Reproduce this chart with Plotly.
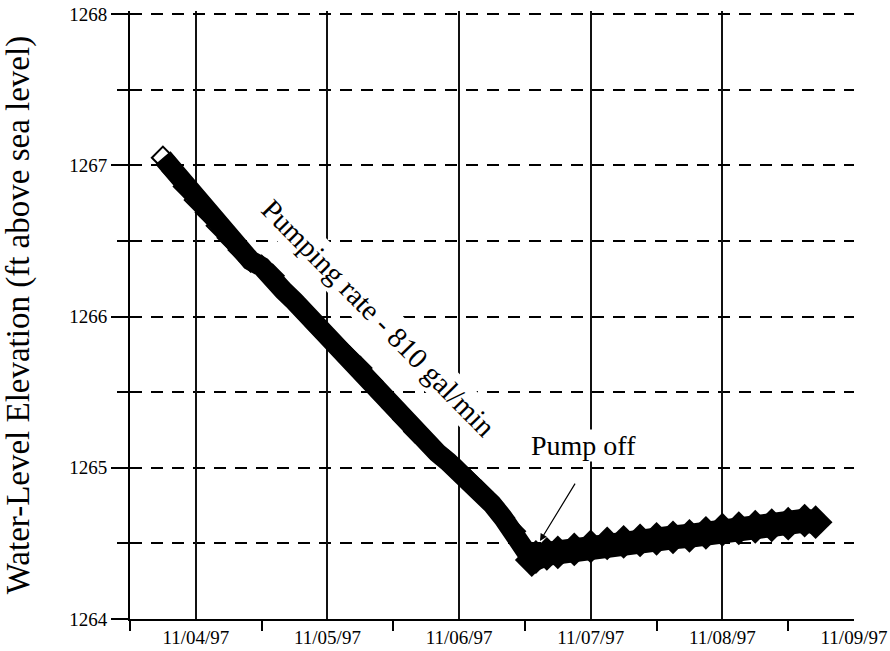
import plotly.graph_objects as go

# ---------------- data ----------------
pump_times = [
    "1997-11-03 18:00", "1997-11-03 20:00", "1997-11-03 22:00",
    "1997-11-04 00:00", "1997-11-04 02:00", "1997-11-04 04:00", "1997-11-04 06:00",
    "1997-11-04 08:00", "1997-11-04 10:00", "1997-11-04 12:00", "1997-11-04 14:00",
    "1997-11-04 16:00", "1997-11-04 18:00", "1997-11-04 20:00", "1997-11-04 22:00",
    "1997-11-05 00:00", "1997-11-05 02:00", "1997-11-05 04:00", "1997-11-05 06:00",
    "1997-11-05 08:00", "1997-11-05 10:00", "1997-11-05 12:00", "1997-11-05 14:00",
    "1997-11-05 16:00", "1997-11-05 18:00", "1997-11-05 20:00", "1997-11-05 22:00",
    "1997-11-06 00:00", "1997-11-06 02:00", "1997-11-06 04:00", "1997-11-06 06:00",
    "1997-11-06 08:00", "1997-11-06 10:00", "1997-11-06 12:00", "1997-11-06 13:15",
]
pump_levels = [
    1267.05, 1266.96, 1266.86,
    1266.77, 1266.69, 1266.60, 1266.52,
    1266.44, 1266.37, 1266.33, 1266.27,
    1266.17, 1266.10, 1266.02, 1265.94,
    1265.87, 1265.80, 1265.73, 1265.66,
    1265.57, 1265.48, 1265.40, 1265.32,
    1265.24, 1265.17, 1265.10, 1265.04,
    1264.98, 1264.91, 1264.84, 1264.76,
    1264.67, 1264.58, 1264.47, 1264.39,
]

recovery_times = [
    "1997-11-06 13:15", "1997-11-06 14:00", "1997-11-06 16:00", "1997-11-06 18:00",
    "1997-11-06 21:00", "1997-11-07 00:00", "1997-11-07 03:00", "1997-11-07 06:00",
    "1997-11-07 09:00", "1997-11-07 12:00", "1997-11-07 15:00", "1997-11-07 18:00",
    "1997-11-07 21:00", "1997-11-08 00:00", "1997-11-08 03:00", "1997-11-08 06:00",
    "1997-11-08 09:00", "1997-11-08 12:00", "1997-11-08 15:00", "1997-11-08 17:00",
]
recovery_levels = [
    1264.39, 1264.41, 1264.43, 1264.44,
    1264.46, 1264.48, 1264.50, 1264.51,
    1264.52, 1264.53, 1264.54, 1264.55,
    1264.57, 1264.59, 1264.60, 1264.61,
    1264.62, 1264.63, 1264.65, 1264.64,
]

day_ticks = ["1997-11-04", "1997-11-05", "1997-11-06", "1997-11-07", "1997-11-08", "1997-11-09"]
day_labels = ["11/04/97", "11/05/97", "11/06/97", "11/07/97", "11/08/97", "11/09/97"]
half_day_ticks = ["1997-11-03 12:00", "1997-11-04 12:00", "1997-11-05 12:00",
                  "1997-11-06 12:00", "1997-11-07 12:00", "1997-11-08 12:00"]
y_major = [1264, 1265, 1266, 1267, 1268]
y_minor = [1264.5, 1265.5, 1266.5, 1267.5]

SERIF = "Liberation Serif, Times New Roman, serif"

fig = go.Figure()

# pumping period: thick band of overlapping open diamonds
fig.add_trace(go.Scatter(
    x=pump_times, y=pump_levels, mode="lines", showlegend=False,
    line=dict(color="black", width=20), hoverinfo="skip"))
fig.add_trace(go.Scatter(
    x=pump_times, y=pump_levels, mode="markers", showlegend=False,
    marker=dict(symbol="diamond-open", size=17, color="black", line=dict(width=2, color="black"))))

# recovery period
fig.add_trace(go.Scatter(
    x=recovery_times, y=recovery_levels, mode="lines", showlegend=False,
    line=dict(color="black", width=24), hoverinfo="skip"))
fig.add_trace(go.Scatter(
    x=recovery_times, y=recovery_levels, mode="markers", showlegend=False,
    marker=dict(symbol="diamond", size=26, color="black")))

fig.update_layout(
    width=890, height=651,
    margin=dict(l=130, r=36, t=11, b=32),
    paper_bgcolor="white", plot_bgcolor="white",
    font=dict(family=SERIF, color="black", size=19),
    xaxis=dict(
        type="date", range=["1997-11-03 12:00", "1997-11-09 00:00"],
        tickmode="array", tickvals=day_ticks, ticktext=day_labels,
        ticks="outside", ticklen=0, tickcolor="black",
        showgrid=True, gridcolor="#111", gridwidth=1.5,
        showline=True, linecolor="black", linewidth=2,
        tickfont=dict(family=SERIF, size=19, color="black"),
        minor=dict(tickmode="array", tickvals=half_day_ticks, ticks="outside",
                   ticklen=10, tickwidth=1.5, tickcolor="black", showgrid=False),
        zeroline=False, automargin=False,
    ),
    yaxis=dict(
        # top slightly above 1268 so the dashed 1268 gridline is drawn
        range=[1264, 1268.02],
        tickmode="array", tickvals=y_major, ticktext=[str(v) for v in y_major],
        ticks="outside", ticklen=17, tickwidth=1.5, tickcolor="black",
        showgrid=True, gridcolor="black", gridwidth=1.8, griddash="12px,9px",
        showline=True, linecolor="black", linewidth=2,
        tickfont=dict(family=SERIF, size=19, color="black"),
        minor=dict(tickmode="array", tickvals=y_minor, ticks="outside",
                   ticklen=11, tickwidth=1.5, tickcolor="black",
                   showgrid=True, gridcolor="black", gridwidth=1.8, griddash="12px,9px"),
        title=dict(text="Water-Level Elevation (ft above sea level)",
                   font=dict(family=SERIF, size=33, color="black"), standoff=34),
        zeroline=False, automargin=False,
    ),
    annotations=[
        dict(x="1997-11-05 09:20", y=1265.99, xref="x", yref="y",
             text="Pumping rate - 810 gal/min", showarrow=False, textangle=45.5,
             font=dict(family=SERIF, size=29, color="black"),
             bgcolor="white", borderpad=2),
        dict(x="1997-11-06 22:45", y=1265.15, xref="x", yref="y",
             text="Pump off", showarrow=False,
             font=dict(family=SERIF, size=28, color="black"),
             bgcolor="white", borderpad=0),
        dict(x="1997-11-06 14:45", y=1264.515, xref="x", yref="y",
             text="", showarrow=True, ax=36, ay=-59,
             arrowhead=2, arrowsize=1.2, arrowwidth=1.2, arrowcolor="black"),
    ],
)

# remove the page's default 8px body margin so the figure fills the window exactly
fig.write_html("out.html", config={"displayModeBar": False},
               post_script="document.body.style.margin='0';")
